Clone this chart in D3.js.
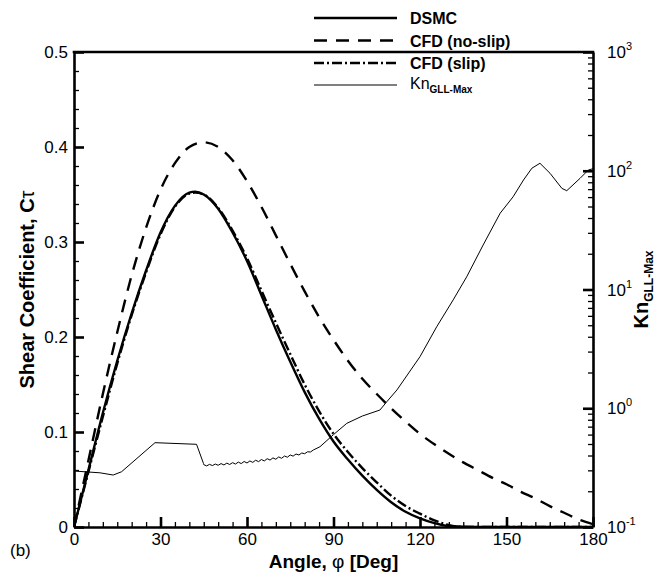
<!DOCTYPE html>
<html>
<head>
<meta charset="utf-8">
<script src="https://cdn.jsdelivr.net/npm/d3@7"></script>
<style>
body { margin: 0; background: #fff; }
svg { font-family: "Liberation Sans", Arial, sans-serif; }
</style>
</head>
<body>
<div id="chart"></div>
<script>
// shear coefficient vs angle
var dsmcAngle = [0, 5, 10, 15, 20, 25, 30, 35, 40, 42, 45, 50, 55, 60, 65, 70, 75, 80, 85, 90, 95, 100, 105, 110, 115, 120, 125, 130, 140, 180]
var dsmcCt = [0, 0.06, 0.12, 0.175, 0.225, 0.27, 0.31, 0.338, 0.352, 0.353, 0.35, 0.335, 0.31, 0.28, 0.244, 0.208, 0.174, 0.142, 0.114, 0.09, 0.071, 0.054, 0.039, 0.026, 0.016, 0.009, 0.004, 0.001, 0, 0]

var slipAngle = [0, 5, 10, 15, 20, 25, 30, 35, 40, 42, 45, 50, 55, 60, 65, 70, 75, 80, 85, 90, 95, 100, 105, 110, 115, 120, 125, 130, 135, 180]
var slipCt = [0, 0.058, 0.116, 0.172, 0.223, 0.268, 0.308, 0.337, 0.351, 0.352, 0.35, 0.336, 0.312, 0.283, 0.249, 0.215, 0.182, 0.15, 0.122, 0.098, 0.079, 0.062, 0.047, 0.033, 0.022, 0.014, 0.007, 0.002, 0, 0]

var noslipAngle = [0, 5, 10, 15, 20, 25, 30, 35, 40, 45, 50, 55, 60, 65, 70, 75, 80, 85, 90, 95, 100, 105, 110, 115, 120, 125, 130, 135, 140, 145, 150, 155, 160, 165, 170, 175, 180]
var noslipCt = [0, 0.07, 0.14, 0.205, 0.265, 0.315, 0.355, 0.383, 0.4, 0.405, 0.4, 0.386, 0.364, 0.337, 0.307, 0.277, 0.248, 0.221, 0.197, 0.175, 0.156, 0.14, 0.125, 0.111, 0.098, 0.087, 0.077, 0.068, 0.06, 0.052, 0.045, 0.037, 0.03, 0.022, 0.015, 0.008, 0.003]

// max GLL Knudsen number (right axis, log)
var knAngle = [0, 9, 13.6, 16.5, 28.1, 42.5, 44.9,
    45, 46, 47, 48, 49, 50, 51, 52, 53, 54, 55, 56, 57, 58, 59, 60, 61, 62, 63, 64,
    65, 66, 67, 68, 69, 70, 71, 72, 73, 74, 75, 76, 77, 78, 79, 80, 81, 82, 83,
    85.3, 90, 94.6, 100, 106.1, 108.5, 112, 120, 125.8, 131.5, 136.2, 141.9, 147.8,
    152.3, 155.9, 158.8, 161.6, 165.1, 169.2, 170.9, 175.5, 178.4, 180]
var knVal = [0.296, 0.286, 0.274, 0.292, 0.513, 0.497, 0.343,
    0.335, 0.327, 0.337, 0.329, 0.339, 0.331, 0.342, 0.333, 0.345, 0.336, 0.348, 0.339, 0.352, 0.342, 0.356, 0.346, 0.36, 0.35, 0.365, 0.355,
    0.37, 0.36, 0.376, 0.366, 0.382, 0.372, 0.389, 0.379, 0.396, 0.387, 0.404, 0.395, 0.412, 0.404, 0.42, 0.414, 0.43, 0.428, 0.445,
    0.474, 0.6, 0.746, 0.86, 0.966, 1.136, 1.425, 2.72, 4.86, 8.17, 12.8, 23.7, 43.9,
    60.4, 83.6, 105, 115.6, 95.2, 71.1, 67.9, 86.3, 101.5, 104]

var xTicks = [0, 30, 60, 90, 120, 150, 180]
var yTicks = [0, 0.1, 0.2, 0.3, 0.4, 0.5]
var yTickLabels = ["0", "0.1", "0.2", "0.3", "0.4", "0.5"]
var knTicks = [0.1, 1, 10, 100, 1000]
var knExp = ["-1", "0", "1", "2", "3"]

var legendNames = ["DSMC", "CFD (no-slip)", "CFD (slip)"]

var W = 667, H = 573
var padL = 74, padR = 593, padT = 52, padB = 527

var svg = d3.select('#chart').append('svg')
    .attr('width', W)
    .attr('height', H)

var x = d3.scaleLinear().domain([0, 180]).range([padL, padR])
var y = d3.scaleLinear().domain([0, 0.5]).range([padB, padT])
var yk = d3.scaleLog().domain([0.1, 1000]).range([padB, padT])

svg.append('clipPath').attr('id', 'plotclip')
    .append('rect')
    .attr('x', padL).attr('y', padT)
    .attr('width', padR - padL).attr('height', padB - padT)

var plot = svg.append('g').attr('clip-path', 'url(#plotclip)')

function pairs(a, b){
    return a.map(function(d, i){ return [d, b[i]] })
}

var ctLine = d3.line()
    .x(function(d){ return x(d[0]) })
    .y(function(d){ return y(d[1]) })
    .curve(d3.curveMonotoneX)

var knLine = d3.line()
    .x(function(d){ return x(d[0]) })
    .y(function(d){ return yk(d[1]) })

plot.append('path')
    .attr('d', knLine(pairs(knAngle, knVal)))
    .attr('fill', 'none').attr('stroke', '#000').attr('stroke-width', 1)

plot.append('path')
    .attr('d', ctLine(pairs(noslipAngle, noslipCt)))
    .attr('fill', 'none').attr('stroke', '#000').attr('stroke-width', 2.4)
    .attr('stroke-dasharray', '13,9')

plot.append('path')
    .attr('d', ctLine(pairs(slipAngle, slipCt)))
    .attr('fill', 'none').attr('stroke', '#000').attr('stroke-width', 2.4)
    .attr('stroke-dasharray', '10,3,2,3')

plot.append('path')
    .attr('d', ctLine(pairs(dsmcAngle, dsmcCt)))
    .attr('fill', 'none').attr('stroke', '#000').attr('stroke-width', 2.4)

// axes
var minorX = d3.range(0, 181, 5).filter(function(d){ return d % 30 != 0 })
var minorY = d3.range(0, 0.501, 0.02).filter(function(d){ return Math.abs(d * 10 - Math.round(d * 10)) > 0.01 })
var minorK = []
knTicks.slice(0, 4).forEach(function(t){
    for(var m = 2; m < 10; m++){ minorK.push(t * m) }
})

var gx = svg.append('g').attr('transform', 'translate(0,' + padB + ')')
    .call(d3.axisBottom(x).tickValues(xTicks).tickSizeInner(-10).tickSizeOuter(0).tickPadding(6))
var gxm = svg.append('g').attr('transform', 'translate(0,' + padB + ')')
    .call(d3.axisBottom(x).tickValues(minorX).tickSizeInner(-5).tickSizeOuter(0).tickFormat(''))

var gy = svg.append('g').attr('transform', 'translate(' + padL + ',0)')
    .call(d3.axisLeft(y).tickValues(yTicks).tickSizeInner(-10).tickSizeOuter(0).tickPadding(6)
        .tickFormat(function(d, i){ return yTickLabels[i] }))
var gym = svg.append('g').attr('transform', 'translate(' + padL + ',0)')
    .call(d3.axisLeft(y).tickValues(minorY).tickSizeInner(-5).tickSizeOuter(0).tickFormat(''))

var gk = svg.append('g').attr('transform', 'translate(' + padR + ',0)')
    .call(d3.axisRight(yk).tickValues(knTicks).tickSizeInner(-10).tickSizeOuter(0).tickFormat(''))
var gkm = svg.append('g').attr('transform', 'translate(' + padR + ',0)')
    .call(d3.axisRight(yk).tickValues(minorK).tickSizeInner(-5).tickSizeOuter(0).tickFormat(''))

;[gx, gy, gk].forEach(function(g){
    g.selectAll('.domain').attr('stroke-width', 2.6)
    g.selectAll('.tick line').attr('stroke-width', 2.6)
    g.selectAll('.tick text').attr('font-size', 17).attr('fill', '#000')
        .attr('font-family', '"Liberation Sans", Arial, sans-serif')
})
;[gxm, gym, gkm].forEach(function(g){
    g.selectAll('.domain').remove()
    g.selectAll('.tick line').attr('stroke-width', 1.3)
})

// top border
svg.append('line')
    .attr('x1', padL - 1.3).attr('x2', padR + 1.3)
    .attr('y1', padT).attr('y2', padT)
    .attr('stroke', '#000').attr('stroke-width', 2.6)

// right axis labels 10^n
knTicks.forEach(function(t, i){
    var tx = svg.append('text')
        .attr('x', padR + 14).attr('y', yk(t) + 6)
        .attr('font-size', 17)
    tx.append('tspan').text('10')
    tx.append('tspan').attr('dy', -8).attr('font-size', 11).text(knExp[i])
})

// axis titles
var xt = svg.append('text')
    .attr('x', (padL + padR) / 2).attr('y', 568)
    .attr('text-anchor', 'middle').attr('font-size', 19).attr('font-weight', 'bold')
xt.append('tspan').text('Angle, ')
xt.append('tspan').attr('font-weight', 'normal').text('φ')
xt.append('tspan').text(' [Deg]')

var yt = svg.append('text')
    .attr('transform', 'translate(34,' + (padT + padB) / 2 + ') rotate(-90)')
    .attr('text-anchor', 'middle').attr('font-size', 20).attr('font-weight', 'bold')
yt.append('tspan').text('Shear Coefficient, C')
yt.append('tspan').attr('font-weight', 'normal').text('τ')

var kt = svg.append('text')
    .attr('transform', 'translate(648,' + (padT + padB) / 2 + ') rotate(-90)')
    .attr('text-anchor', 'middle').attr('font-size', 20).attr('font-weight', 'bold')
kt.append('tspan').text('Kn')
kt.append('tspan').attr('font-size', 12).attr('dy', 5).text('GLL-Max')

svg.append('text')
    .attr('x', 10).attr('y', 556)
    .attr('font-size', 17)
    .text('(b)')

// legend
var legStyles = [null, '13,9', '10,3,2,3']
legendNames.forEach(function(n, i){
    var ly = 18 + i * 22.5
    svg.append('line')
        .attr('x1', 314).attr('x2', 397)
        .attr('y1', ly).attr('y2', ly)
        .attr('stroke', '#000').attr('stroke-width', 2.4)
        .attr('stroke-dasharray', legStyles[i])
    svg.append('text')
        .attr('x', 410).attr('y', ly + 6)
        .attr('font-size', 16).attr('font-weight', 'bold')
        .text(n)
})
svg.append('line')
    .attr('x1', 314).attr('x2', 397)
    .attr('y1', 85).attr('y2', 85)
    .attr('stroke', '#000').attr('stroke-width', 1)
var lk = svg.append('text')
    .attr('x', 410).attr('y', 89)
    .attr('font-size', 16)
lk.append('tspan').text('Kn')
lk.append('tspan').attr('font-size', 10).attr('font-weight', 'bold').attr('dy', 4).text('GLL-Max')
</script>
</body>
</html>
